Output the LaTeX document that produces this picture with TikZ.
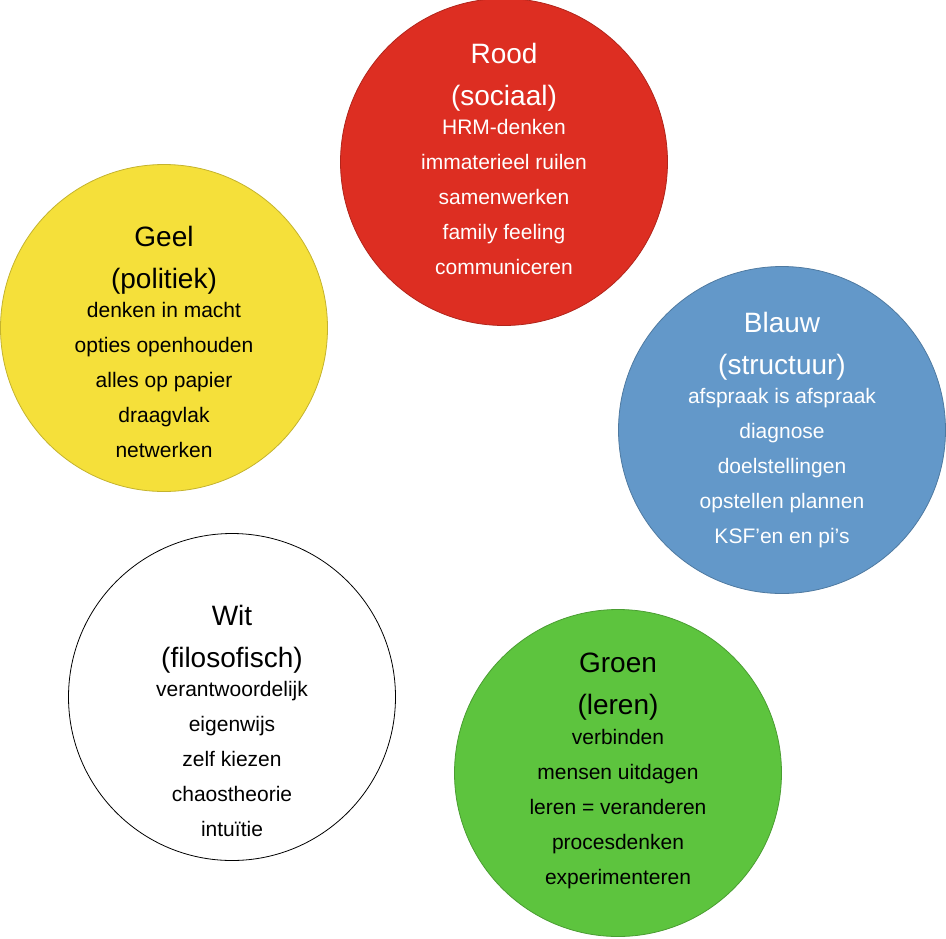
\documentclass[tikz,border=0pt]{standalone}
\usepackage{fontspec}
\setmainfont{Liberation Sans}
\definecolor{cred}{HTML}{DD2E22}
\definecolor{cyel}{HTML}{F5E03A}
\definecolor{cblu}{HTML}{6398C9}
\definecolor{cgrn}{HTML}{5DC43E}
\begin{document}
\begin{tikzpicture}[x=1pt,y=-1pt,
  circ/.style={circle,inner sep=0pt,minimum size=327pt,line width=0.8pt},
  ttl/.style={align=center,inner sep=0pt,anchor=north,font=\fontsize{28}{42}\selectfont},
  bdy/.style={align=center,inner sep=0pt,anchor=north,font=\fontsize{21}{35}\selectfont,yshift=-8pt}]
\useasboundingbox (0,0) rectangle (946,938);
\node[circ,fill=cred,draw=cred!80!black] (rood) at (504,162) {};
\node[circ,fill=cyel,draw=cyel!80!black] (geel) at (164,328) {};
\node[circ,fill=cblu,draw=cblu!80!black] (blauw) at (782,430) {};
\node[circ,fill=white,draw=black] (wit) at (232,697) {};
\node[circ,fill=cgrn,draw=cgrn!80!black] (groen) at (618,773) {};
\node[ttl,text=white] (troo) at (504,43) {Rood\\(sociaal)};
\node[bdy,text=white] (broo) at (troo.south) {HRM-denken\\immaterieel ruilen\\samenwerken\\family feeling\\communiceren};
\node[ttl] (tgee) at (164,226) {Geel\\(politiek)};
\node[bdy] (bgee) at (tgee.south) {denken in macht\\opties openhouden\\alles op papier\\draagvlak\\netwerken};
\node[ttl,text=white] (tbla) at (782,312) {Blauw\\(structuur)};
\node[bdy,text=white] (bbla) at (tbla.south) {afspraak is afspraak\\diagnose\\doelstellingen\\opstellen plannen\\KSF’en en pi’s};
\node[ttl] (twit) at (232,605) {Wit\\(filosofisch)};
\node[bdy] (bwit) at (twit.south) {verantwoordelijk\\eigenwijs\\zelf kiezen\\chaostheorie\\intuïtie};
\node[ttl] (tgro) at (618,653) {Groen\\(leren)};
\node[bdy] (bgro) at (tgro.south) {verbinden\\mensen uitdagen\\leren = veranderen\\procesdenken\\experimenteren};
\end{tikzpicture}
\end{document}
